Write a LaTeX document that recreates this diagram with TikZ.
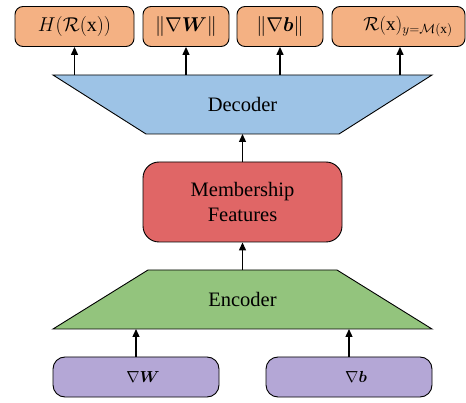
\RequirePackage{fix-cm}
\documentclass[tikz,border=0pt]{standalone}
\usepackage{amsmath}
\usepackage{fontspec}
\setmainfont{Liberation Serif}
\usetikzlibrary{calc,arrows.meta}

\definecolor{outbox}{HTML}{F4B183}
\definecolor{decfill}{HTML}{9DC3E6}
\definecolor{featfill}{HTML}{E06666}
\definecolor{encfill}{HTML}{93C47D}
\definecolor{inbox}{HTML}{B4A7D6}

\tikzset{
  outnode/.style={draw=black, line width=0.9pt, fill=outbox, rounded corners=8pt,
    minimum height=40pt, inner sep=0pt, font=\fontsize{20}{22}\selectfont},
  innode/.style={draw=black, line width=0.9pt, fill=inbox, rounded corners=12pt,
    minimum width=166pt, minimum height=40pt, inner sep=0pt},
  inlabel/.style={inner sep=0pt, font=\fontsize{16}{19}\selectfont},
  featnode/.style={draw=black, line width=0.9pt, fill=featfill, rounded corners=16pt,
    minimum width=199pt, minimum height=80pt, inner sep=0pt, align=center,
    font=\fontsize{20.5}{25}\selectfont},
  blocklabel/.style={inner sep=0pt, font=\fontsize{20.5}{24}\selectfont},
  trap/.style={draw=black, line width=0.9pt},
  link/.style={draw=black, line width=1.3pt, -{Triangle[width=7pt,length=8pt]}},
}

\begin{document}
\begin{tikzpicture}[x=1pt,y=-1pt]
  \useasboundingbox (0,0) rectangle (466,403);

  % output heads
  \node[outnode, minimum width=119pt] (h)  at (74.5,26.5)  {$H(\mathcal{R}(\mathrm{x}))$};
  \node[outnode, minimum width=86pt]  (nw) at (186,26.5)   {$\|\nabla\boldsymbol{W}\|$};
  \node[outnode, minimum width=86pt]  (nb) at (280,26.5)   {$\|\nabla\boldsymbol{b}\|$};
  \node[outnode, minimum width=133pt] (r)  at (398.5,26.5) {};
  \node[inner sep=0pt, font=\fontsize{19}{21}\selectfont] (rt) at (408,26.5)
    {$\mathcal{R}(\mathrm{x})_{y=\mathcal{M}(\mathrm{x})}$};

  % decoder block
  \coordinate (dtl) at (53,75);
  \coordinate (dtr) at (432,75);
  \coordinate (dbr) at (339,134);
  \coordinate (dbl) at (146,134);
  \path[trap, fill=decfill] (dtl) -- (dtr) -- (dbr) -- (dbl) -- cycle;
  \node[blocklabel] (dec) at (242.5,104) {Decoder};
  \coordinate (dectop) at (242.5,75);
  \coordinate (decbot) at (242.5,134);

  % membership features
  \node[featnode] (feat) at (242.5,202) {Membership\\Features};

  % encoder block
  \coordinate (etl) at (148,270);
  \coordinate (etr) at (337,270);
  \coordinate (ebr) at (432,329);
  \coordinate (ebl) at (53,329);
  \path[trap, fill=encfill] (etl) -- (etr) -- (ebr) -- (ebl) -- cycle;
  \node[blocklabel] (enc) at (242.5,299) {Encoder};
  \coordinate (enctop) at (242.5,270);

  % gradient inputs
  \node[innode] (gw) at (136,377) {};
  \node[innode] (gb) at (349,377) {};
  \node[inlabel] (gwt) at (143,377) {$\nabla\boldsymbol{W}$};
  \node[inlabel] (gbt) at (356,377) {$\nabla\boldsymbol{b}$};

  % connectors
  \coordinate (rs) at ($(r.south)+(1.5,0)$);
  \draw[link] (gw.north) -- (gw.north |- ebl);
  \draw[link] (gb.north) -- (gb.north |- ebl);
  \draw[link] (enctop) -- (feat.south);
  \draw[link] (feat.north) -- (decbot);
  \draw[link] (h.south |- dectop) -- (h.south);
  \draw[link] (nw.south |- dectop) -- (nw.south);
  \draw[link] (nb.south |- dectop) -- (nb.south);
  \draw[link] (rs |- dectop) -- (rs);
\end{tikzpicture}
\end{document}
